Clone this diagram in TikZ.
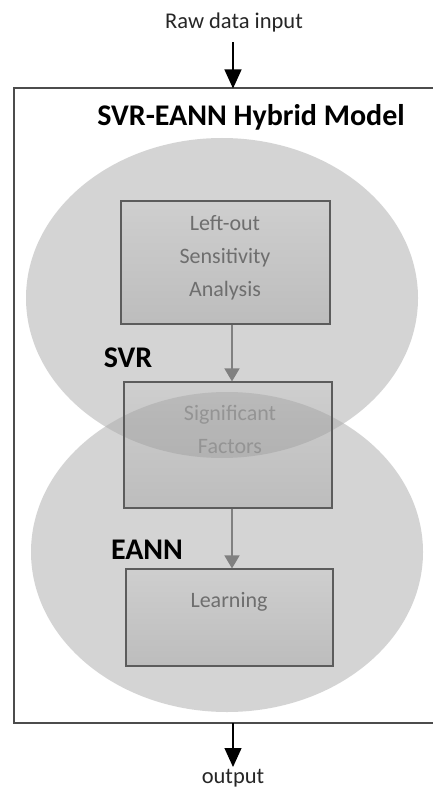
\documentclass[tikz,border=0pt]{standalone}
\usepackage{fontspec}
\setmainfont{Carlito}
\usetikzlibrary{arrows.meta}
\definecolor{ellgray}{gray}{0.67}
\definecolor{framecol}{gray}{0.30}
\definecolor{boxborder}{gray}{0.36}
\definecolor{boxtop}{gray}{0.81}
\definecolor{boxbot}{gray}{0.74}
\definecolor{boxtext}{gray}{0.43}
\definecolor{fadetext}{gray}{0.58}
\definecolor{innerarrow}{gray}{0.50}
\begin{document}
\begin{tikzpicture}[x=1pt,y=-1pt,
  blob/.style={fill=ellgray, fill opacity=0.5, draw=none},
  procbox/.style={draw=boxborder, line width=1.1pt, top color=boxtop, bottom color=boxbot, rectangle, inner sep=0pt},
  boxlabel/.style={text=boxtext, align=center, font=\fontsize{22}{33}\selectfont},
  biglabel/.style={font=\fontsize{30}{36}\selectfont\bfseries, text=black},
  plainlabel/.style={font=\fontsize{22.5}{27}\selectfont, text=black!85},
  outerarrow/.style={draw=black, line width=1.2pt, -{Triangle[length=19pt,width=17pt]}},
  innerarr/.style={draw=innerarrow, line width=1.5pt, -{Triangle[length=13pt,width=15pt]}}
]
\useasboundingbox (0,0) rectangle (432,791);
\fill[white] (0,0) rectangle (432,791);

% outer frame (right side runs off the picture)
\coordinate (axis) at (232,0);
\coordinate (frametop) at (233,88.5);
\coordinate (framebot) at (233,723);
\draw[framecol, line width=2pt] (433,88.5) -- (14,88.5) -- (14,723) -- (433,723);

% ellipses
\fill[blob] (222,298) ellipse [x radius=196pt, y radius=160pt];
\fill[blob] (227,552) ellipse [x radius=196pt, y radius=160pt];

% boxes
\node[procbox, minimum width=209pt, minimum height=123pt] (b1) at (225.5,262.5) {};
\node[procbox, minimum width=208pt, minimum height=126pt] (b2) at (228,445) {};
\node[procbox, minimum width=207pt, minimum height=97pt] (b3) at (229.5,617.5) {};

% lens darkening over box 2
\begin{scope}
  \clip (b2.south west) rectangle (b2.north east);
  \clip (222,298) ellipse [x radius=196pt, y radius=160pt];
  \fill[black, opacity=0.09] (227,552) ellipse [x radius=196pt, y radius=160pt];
\end{scope}
\node[draw=boxborder, line width=1.1pt, minimum width=208pt, minimum height=126pt, inner sep=0pt] (b2frame) at (b2) {};

% box texts
\node[boxlabel] (t1) at (225,257.5) {Left-out\\Sensitivity\\Analysis};
\node[boxlabel, text=fadetext] (t2) at (230,429.5) {Significant\\Factors};
\node[boxlabel] (t3) at (229,602) {Learning};

% labels
\node[biglabel] (title) at (251,117) {SVR-EANN Hybrid Model};
\node[biglabel] (svr) at (128,358) {SVR};
\node[biglabel] (eann) at (147,550) {EANN};
\node[plainlabel] (raw) at (234,23) {Raw data input};
\node[plainlabel] (out) at (233,778) {output};

% arrows
\draw[outerarrow] (raw.south -| frametop) ++(0,6) -- (frametop);
\draw[outerarrow] (framebot) -- (233,767);
\draw[innerarr] (b1.south -| axis) -- (b2.north -| axis);
\draw[innerarr] (b2.south -| axis) -- (b3.north -| axis);
\end{tikzpicture}
\end{document}
